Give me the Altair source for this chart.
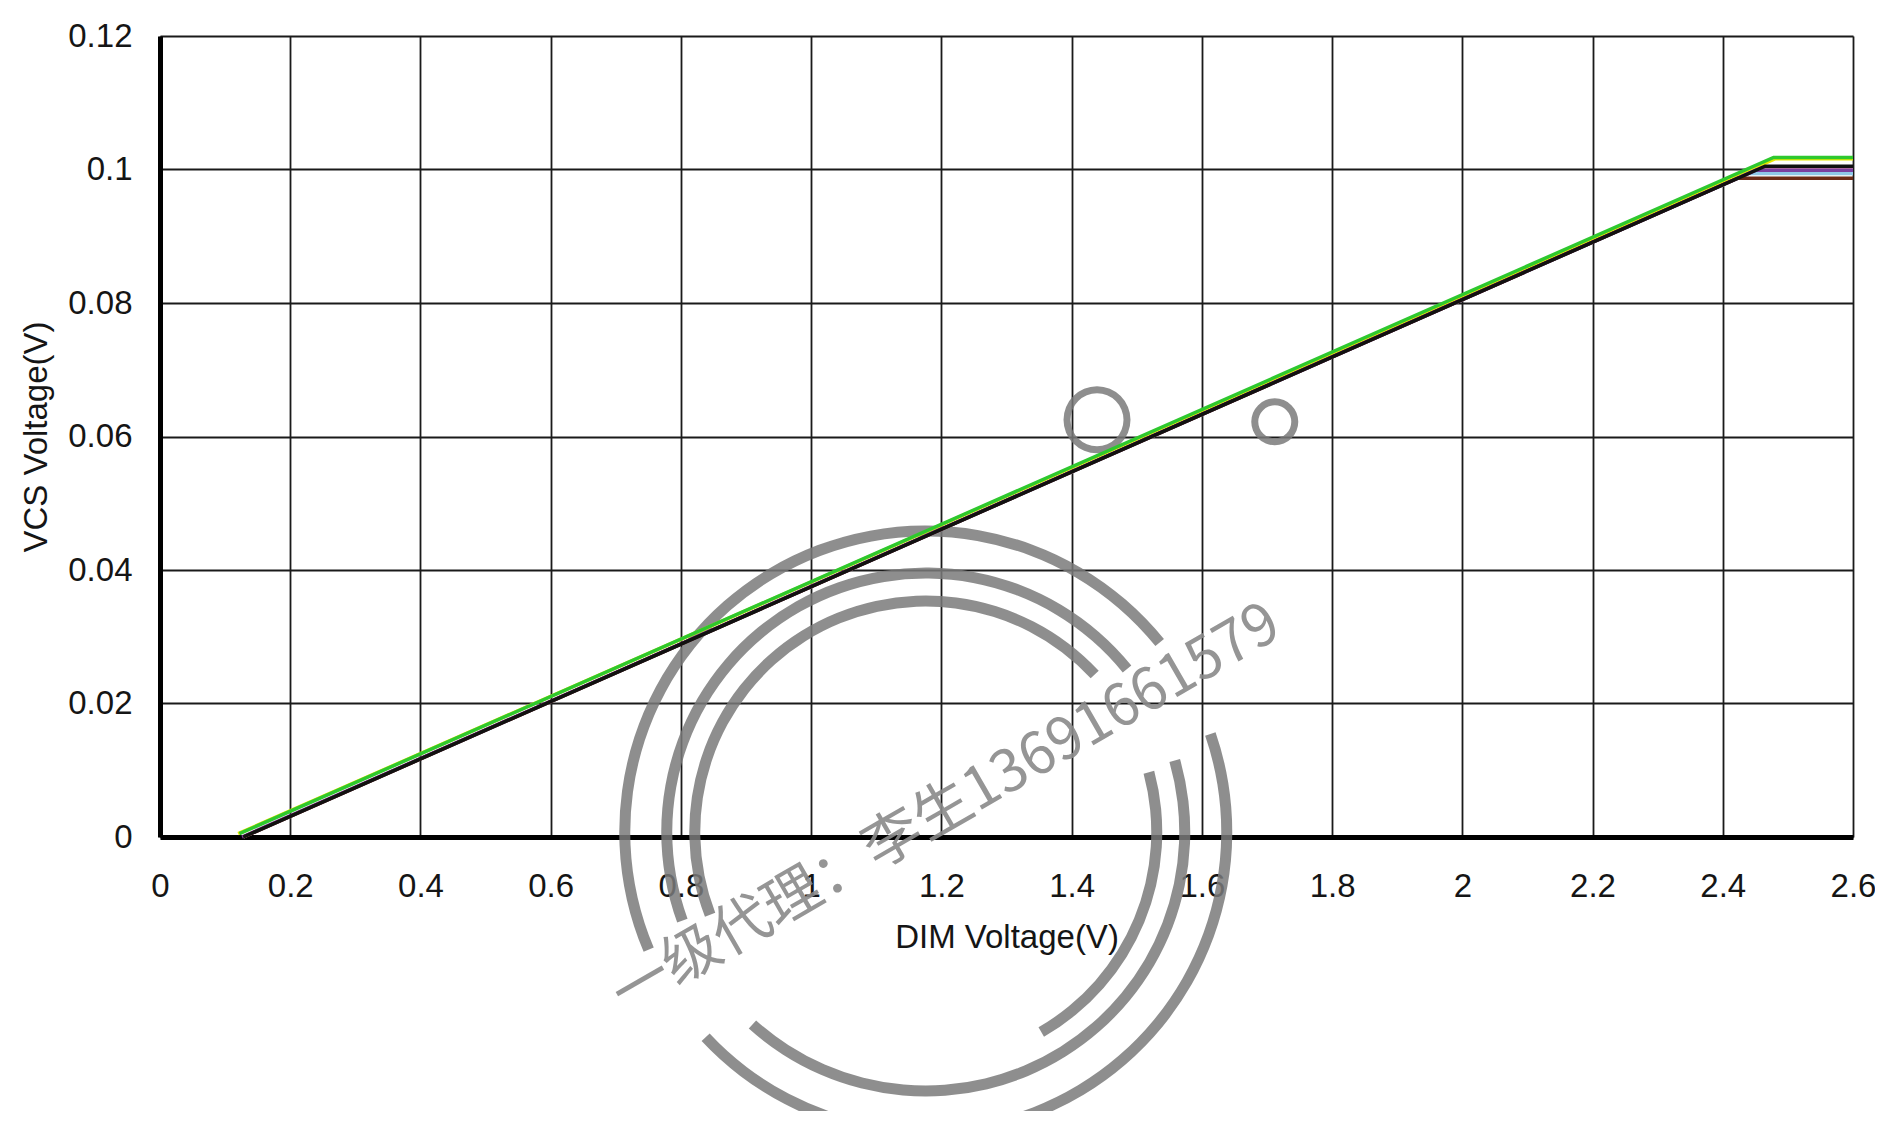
import math
import altair as alt
import pandas as pd

# ---- axis ticks ----
x_ticks = [0, 0.2, 0.4, 0.6, 0.8, 1.0, 1.2, 1.4, 1.6, 1.8, 2.0, 2.2, 2.4, 2.6]
y_ticks = [0, 0.02, 0.04, 0.06, 0.08, 0.1, 0.12]

# ---- curves (start point, knee, flat level to x_end); listed in drawing order ----
series_names = ["Yellow", "Green", "Light blue", "Pink", "Purple", "Brown", "Black"]
series_colors = ["#e8e800", "#2ec82e", "#8fc8e8", "#d98aa0", "#7a3fa0", "#6b2a17", "#111111"]
x_start = [0.12, 0.122, 0.128, 0.128, 0.126, 0.128, 0.128]
y_start = [0.0005, 0.0005, 0.0, 0.0, 0.0, 0.0, 0.0]
x_knee = [2.48, 2.478, 2.44, 2.46, 2.451, 2.423, 2.465]
y_level = [0.1016, 0.1018, 0.0994, 0.1003, 0.0999, 0.0987, 0.1005]
x_end = 2.6

# ---- watermark ----
wm_text = "一级代理：李生13691661579"
wm_text_x = [1.208]
wm_text_y = [0.004]
wm_cx = [1.176, 1.176, 1.176, 1.176, 1.176, 1.176, 1.439, 1.712]
wm_cy = [0.00075, 0.00075, 0.00075, 0.00075, 0.00075, 0.00075, 0.0625, 0.0622]
wm_r = [301, 301, 259, 259, 231, 231, 30, 20]
wm_w = [11, 11, 11, 11, 11, 11, 7, 7]
wm_t0 = [247, 71, 250, 74, 249, 75, 0, 0]
wm_t1 = [411, 227, 411, 222, 407, 150, 360, 360]

rows = []
for i, name in enumerate(series_names):
    rows.append({"series": name, "order": 0, "x": x_start[i], "y": y_start[i]})
    rows.append({"series": name, "order": 1, "x": x_knee[i], "y": y_level[i]})
    rows.append({"series": name, "order": 2, "x": x_end, "y": y_level[i]})
df = pd.DataFrame(rows)

arcs = pd.DataFrame({
    "x": wm_cx,
    "y": wm_cy,
    "ro": [r + w / 2 for r, w in zip(wm_r, wm_w)],
    "ri": [r - w / 2 for r, w in zip(wm_r, wm_w)],
    "t0": [math.radians(t) for t in wm_t0],
    "t1": [math.radians(t) for t in wm_t1],
})
txt = pd.DataFrame({"x": wm_text_x, "y": wm_text_y, "t": [wm_text]})

xscale = alt.Scale(domain=[0, 2.6], nice=False, zero=False)
yscale = alt.Scale(domain=[0, 0.12], nice=False, zero=False)

FONT = "Liberation Sans"
FS = 33

xaxis = alt.Axis(
    values=x_ticks, format=".1~f", title="DIM Voltage(V)",
    labelFont=FONT, labelFontSize=FS, labelColor="#151515", labelFlush=False,
    labelPadding=33, tickSize=0, grid=True, gridColor="#1a1a1a", gridWidth=1.8,
    domainColor="#000000", domainWidth=5,
    titleFont=FONT, titleFontSize=FS, titleFontWeight="normal", titleColor="#151515",
    titlePadding=18,
)
yaxis = alt.Axis(
    values=y_ticks, format=".2~f", title="VCS Voltage(V)",
    labelFont=FONT, labelFontSize=FS, labelColor="#151515",
    labelPadding=28, tickSize=0, grid=True, gridColor="#1a1a1a", gridWidth=1.8,
    domainColor="#000000", domainWidth=5,
    titleFont=FONT, titleFontSize=FS, titleFontWeight="normal", titleColor="#151515",
    titlePadding=14,
)

rings = alt.Chart(arcs).mark_arc(color="#7a7a7a", opacity=0.85).encode(
    x=alt.X("x:Q", scale=xscale, axis=xaxis),
    y=alt.Y("y:Q", scale=yscale, axis=yaxis),
    theta=alt.Theta("t0:Q", scale=None),
    theta2="t1:Q",
    radius=alt.Radius("ro:Q", scale=None),
    radius2="ri:Q",
)

line_layers = []
for name, col in zip(series_names, series_colors):
    line_layers.append(
        alt.Chart(df).transform_filter(alt.datum.series == name)
        .mark_line(strokeWidth=3.5, color=col)
        .encode(
            x=alt.X("x:Q", scale=xscale),
            y=alt.Y("y:Q", scale=yscale),
            order="order:Q",
        )
    )

wm = alt.Chart(txt).mark_text(
    angle=330, font="Noto Sans CJK SC", fontSize=58, color="#8a8a8a", opacity=0.9,
    align="center", baseline="middle",
).encode(
    x=alt.X("x:Q", scale=xscale),
    y=alt.Y("y:Q", scale=yscale),
    text="t:N",
)

chart = alt.layer(rings, *line_layers, wm).properties(
    width=1693, height=801,
    autosize=alt.AutoSizeParams(type="none"),
    padding={"left": 152, "top": 28, "right": 22, "bottom": 274},
).configure_view(
    stroke="#000000", strokeWidth=5
).configure(background="#ffffff")

chart.save("out.html", embed_options={"renderer": "svg", "actions": False})
